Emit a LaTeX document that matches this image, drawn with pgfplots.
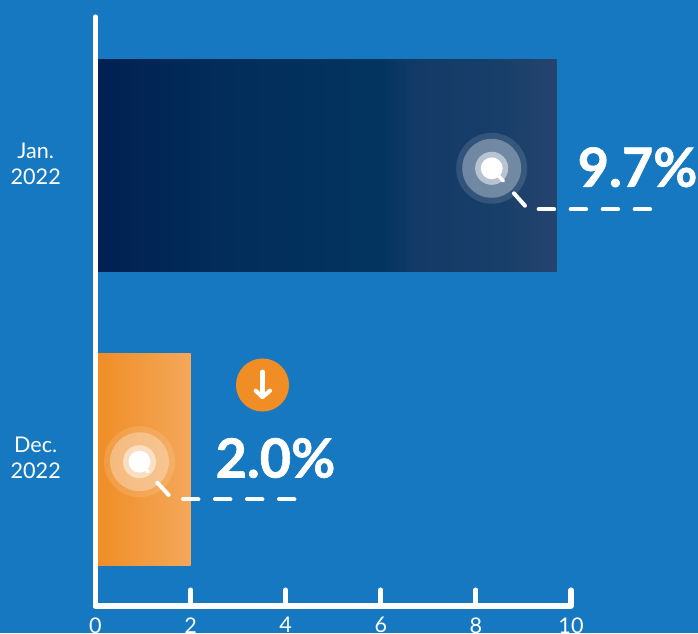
\documentclass[border=0pt]{standalone}
\usepackage{fontspec}
\setmainfont{Lato}
\newfontfamily\valuefont[BoldFeatures={FakeBold=1.2}]{Lato}
\usepackage{pgfplots}
\pgfplotsset{compat=1.18}
\definecolor{bg}{HTML}{1578C0}
\definecolor{orangeL}{HTML}{F08D25}
\definecolor{orangeR}{HTML}{F4A85A}
\definecolor{navyA}{HTML}{002052}
\definecolor{navyB}{HTML}{022D5A}
\definecolor{navyC}{HTML}{033460}
\definecolor{navyD}{HTML}{143B68}
\definecolor{navyE}{HTML}{183F69}
\definecolor{navyF}{HTML}{25446F}
\pgfdeclarehorizontalshading{navybar}{100bp}{
  color(0bp)=(navyA);
  color(25bp)=(navyA);
  color(39bp)=(navyB);
  color(56bp)=(navyC);
  color(60bp)=(navyD);
  color(69bp)=(navyE);
  color(75bp)=(navyF);
  color(100bp)=(navyF)}
\begin{document}
\begin{tikzpicture}
\useasboundingbox (0,0) rectangle (523.5pt,474.75pt);
\clip (0,0) rectangle (523.5pt,474.75pt);
\fill[bg] (0,0) rectangle (523.5pt,474.75pt);
\begin{axis}[
  at={(71.625pt,20.25pt)}, anchor=south west,
  scale only axis, width=356.625pt, height=441.75pt,
  xmin=0, xmax=10, ymin=-0.4983, ymax=1.5051,
  clip=false, clip mode=individual, axis on top,
  axis lines=left,
  axis line style={-, white, line width=3.9pt, line cap=round},
  xtick={0,2,4,6,8,10},
  ytick={0,1},
  yticklabels={{Dec.\\2022},{Jan.\\2022}},
  tick align=inside,
  x tick style={white, line width=3.8pt, line cap=round},
  y tick style={draw=none},
  major tick length=12pt,
  every tick label/.append style={text=white, font=\fontsize{16.2pt}{19.5pt}\selectfont},
  /pgf/number format/assume math mode=true,
  yticklabel style={align=center, xshift=-22.5pt, yshift=1.1pt},
  xticklabel style={yshift=-5pt},
]
% bars
\addplot[xbar, bar width=158.6pt, bar shift=0pt, draw=none, shading=navybar] coordinates {(9.7,1)};
\addplot[xbar, bar width=158.6pt, bar shift=0pt, draw=none, left color=orangeL, right color=orangeR] coordinates {(2.0,0)};

% target rings over the bar ends
\addplot[only marks, mark=*, mark size=26.6pt, mark options={draw opacity=0, fill=white, fill opacity=0.12}] coordinates {(8.332,0.9905)(0.925,-0.0075)};
\addplot[only marks, mark=*, mark size=22.1pt, mark options={draw opacity=0, fill=white, fill opacity=0.30}] coordinates {(8.332,0.9905)(0.925,-0.0075)};
\addplot[only marks, mark=*, mark size=12.4pt, mark options={draw opacity=0, fill=white, fill opacity=0.50}] coordinates {(8.332,0.9905)(0.925,-0.0075)};
\addplot[only marks, mark=*, mark size=8.2pt, mark options={draw opacity=0, fill=white}] coordinates {(8.332,0.9905)(0.925,-0.0075)};
\addplot[white, line width=2.6pt, line cap=round] coordinates {(8.332,0.9905)(8.576,0.9473)};
\addplot[white, line width=2.6pt, line cap=round] coordinates {(0.925,-0.0075)(1.110,-0.0415)};

% leader lines
\addplot[white, line width=3pt, line cap=round] coordinates {(8.800,0.9054)(9.032,0.8633)};
\addplot[white, line width=3pt, line cap=round, dash pattern=on 11.6pt off 12.4pt] coordinates {(9.32,0.8510)(11.675,0.8510)};
\addplot[white, line width=3pt, line cap=round] coordinates {(1.300,-0.0789)(1.539,-0.1207)};
\addplot[white, line width=3pt, line cap=round, dash pattern=on 11.6pt off 12.4pt] coordinates {(1.840,-0.1354)(4.196,-0.1354)};

% down arrow badge
\addplot[only marks, mark=*, mark size=19.9pt, mark options={draw opacity=0, fill=orangeL}] coordinates {(3.512,0.2534)};
\addplot[white, line width=3.1pt, line cap=round] coordinates {(3.512,0.2986)(3.512,0.2126)};
\addplot[white, line width=3.1pt, line cap=round, line join=round] coordinates {(3.369,0.2340)(3.512,0.2126)(3.670,0.2340)};

% value labels
\node[text=white, font=\fontsize{40.5pt}{40.5pt}\valuefont\bfseries] at (axis cs:11.40,0.994) {9.7\%};
\node[text=white, font=\fontsize{40.5pt}{40.5pt}\valuefont\bfseries] at (axis cs:3.785,0.005) {2.0\%};
\end{axis}
\end{tikzpicture}
\end{document}
